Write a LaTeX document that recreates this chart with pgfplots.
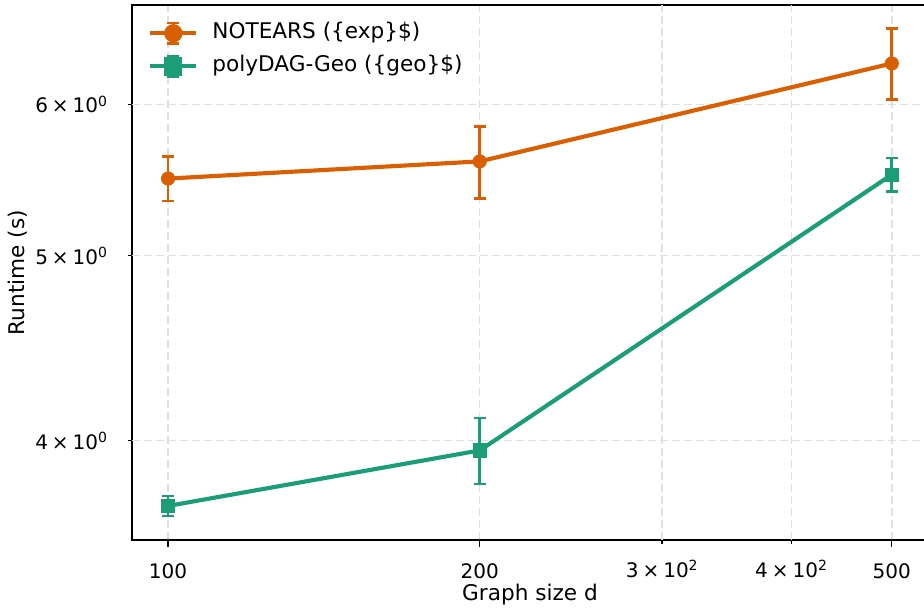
\documentclass[border=0pt]{standalone}
\usepackage{pgfplots}
\pgfplotsset{compat=1.18}
\usepackage{fontspec}
\setmainfont{DejaVu Sans}
\definecolor{cOr}{HTML}{D95F02}
\definecolor{cGr}{HTML}{1B9E77}
\newcommand{\tms}{\hspace{0.2em}×\hspace{0.2em}}
\begin{document}
\begin{tikzpicture}[font=\fontsize{15}{18}\selectfont]
\path[use as bounding box] (0,0) rectangle (693pt,456pt);
\begin{axis}[
  at={(99pt,51pt)}, anchor=south west,
  scale only axis, width=597pt, height=401.25pt,
  xmode=log, ymode=log,
  xmin=92.3, xmax=542, ymin=3.549, ymax=6.765,
  xtick={100,200,500}, xticklabels={100,200,500},
  extra x ticks={300,400},
  extra x tick labels={{3\tms10\textsuperscript{2}},{4\tms10\textsuperscript{2}}},
  extra x tick style={major tick length=3pt, grid=major},
  ytick=\empty,
  extra y ticks={4,5,6},
  extra y tick labels={{4\tms10\textsuperscript{0}},{5\tms10\textsuperscript{0}},{6\tms10\textsuperscript{0}}},
  extra y tick style={major tick length=3pt, grid=major},
  minor xtick={}, minor ytick={},
  major tick length=5.25pt,
  tick align=outside, tick pos=left,
  tick style={black, line width=1pt},
  axis line style={line width=1.1pt},
  grid=major,
  major grid style={dash pattern=on 6pt off 3pt, color=black!12, line width=1.1pt},
  ticklabel style={font=\fontsize{15}{18}\selectfont},
  xticklabel style={inner sep=0pt, anchor=north, yshift=-12pt},
  yticklabel style={inner sep=0pt, anchor=east, xshift=-15pt},
  xlabel={Graph size d}, ylabel={Runtime (s)},
  label style={font=\fontsize{16.2}{19}\selectfont},
  xlabel style={at={(axis description cs:0.5,-0.1134)}, anchor=base},
  ylabel style={at={(axis description cs:-0.135,0.5)}, anchor=base},
  legend style={at={(0.0201,0.9696)}, anchor=north west, draw=none, fill=none,
    inner sep=0pt, row sep=7.25pt, column sep=10.5pt,
    nodes={inner sep=0pt, text height=11.5pt, text depth=3.8pt, anchor=west},
    font=\fontsize{16.2}{19}\selectfont},
  legend cell align=left,
  clip=false,
]
\addplot[cOr, line width=3.1pt, mark=*, mark size=5pt, mark options={solid, line width=0.6pt},
  error bars/.cd, y dir=both, y explicit,
  error bar style={line width=2.1pt, cOr},
  error mark options={line width=2.1pt, mark size=4.6pt, cOr, rotate=90},
  /pgfplots/legend image code/.code={
    \draw[cOr, line width=3.1pt] (0pt,0pt) -- (34.5pt,0pt);
    \draw[cOr, line width=2.1pt] (17.25pt,-7.75pt) -- (17.25pt,7.75pt);
    \draw[cOr, line width=2.1pt] (12.65pt,-7.75pt) -- (21.85pt,-7.75pt);
    \draw[cOr, line width=2.1pt] (12.65pt,7.75pt) -- (21.85pt,7.75pt);
    \fill[cOr] (17.25pt,0pt) circle (5.3pt);
  }]
coordinates {
  (100,5.487) +- (0,0.146)
  (200,5.602) +- (0,0.243)
  (500,6.304) +- (0,0.270)
};
\addlegendentry{NOTEARS (\{exp\}\$)}
\addplot[cGr, line width=3.1pt, mark=square*, mark size=5pt, mark options={solid, line width=0.6pt},
  error bars/.cd, y dir=both, y explicit,
  error bar style={line width=2.1pt, cGr},
  error mark options={line width=2.1pt, mark size=4.6pt, cGr, rotate=90},
  /pgfplots/legend image code/.code={
    \draw[cGr, line width=3.1pt] (0pt,0pt) -- (34.5pt,0pt);
    \draw[cGr, line width=2.1pt] (17.25pt,-7.75pt) -- (17.25pt,7.75pt);
    \draw[cGr, line width=2.1pt] (12.65pt,-7.75pt) -- (21.85pt,-7.75pt);
    \draw[cGr, line width=2.1pt] (12.65pt,7.75pt) -- (21.85pt,7.75pt);
    \fill[cGr] (11.95pt,-5.3pt) rectangle (22.55pt,5.3pt);
  }]
coordinates {
  (100,3.698) +- (0,0.045)
  (200,3.954) +- (0,0.157)
  (500,5.513) +- (0,0.112)
};
\addlegendentry{polyDAG-Geo (\{geo\}\$)}
\end{axis}
\end{tikzpicture}
\end{document}
